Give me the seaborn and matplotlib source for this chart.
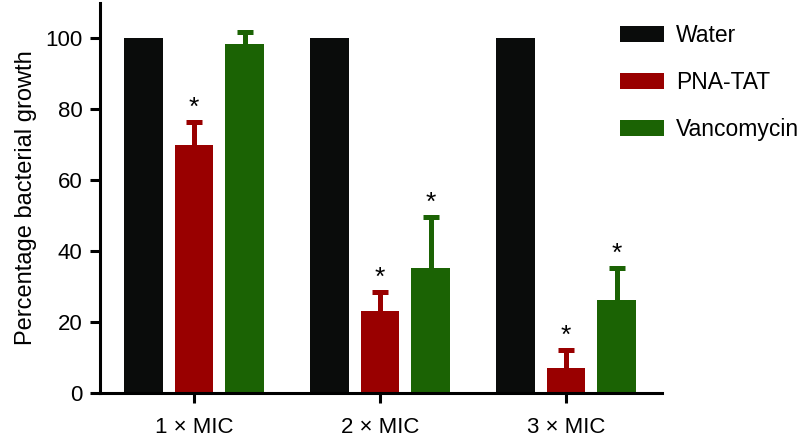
import matplotlib
matplotlib.use("Agg")
import matplotlib.pyplot as plt
import seaborn as sns
import pandas as pd
import numpy as np

groups = ["1 \u00d7 MIC", "2 \u00d7 MIC", "3 \u00d7 MIC"]
treatments = ["Water", "PNA-TAT", "Vancomycin"]
water = [100, 100, 100]
pna_tat = [70, 23, 7]
vancomycin = [98.5, 35.3, 26.1]
water_err = [0, 0, 0]
pna_tat_err = [6.5, 5.4, 5.0]
vancomycin_err = [3.2, 14.3, 9.2]
starred = {"PNA-TAT": [True, True, True], "Vancomycin": [False, True, True]}

colors = ["#0a0c0b", "#990000", "#1b6304"]

sns.set_style("ticks")
plt.rcParams["font.family"] = ["Liberation Sans", "DejaVu Sans"]
plt.rcParams.update({"text.color": "black", "axes.labelcolor": "black",
                     "xtick.color": "black", "ytick.color": "black",
                     "axes.edgecolor": "black"})

df = pd.DataFrame({
    "group": groups * 3,
    "treatment": [t for t in treatments for _ in groups],
    "value": water + pna_tat + vancomycin,
    "err": water_err + pna_tat_err + vancomycin_err,
})

fig = plt.figure(figsize=(8.08, 4.44), dpi=100)
ax = fig.add_axes([100 / 808, 51 / 444, 562 / 808, 390 / 444])

sns.barplot(data=df, x="group", y="value", hue="treatment", order=groups,
            hue_order=treatments, palette=colors, width=0.815, gap=0.237,
            errorbar=None, saturation=1, linewidth=0, ax=ax)

# upper error bars and stars
for cont, name, col in zip(ax.containers, treatments, colors):
    sub = df[df.treatment == name].set_index("group").loc[groups]
    xs = [p.get_x() + p.get_width() / 2 for p in cont.patches]
    ys = sub["value"].to_numpy()
    es = sub["err"].to_numpy()
    if es.sum() > 0:
        eb = ax.errorbar(xs, ys, yerr=[np.zeros_like(es), es], fmt="none",
                         ecolor=col, elinewidth=3.6, capsize=6, capthick=3.6)
        eb[1][0].set_visible(False)  # lower cap, hidden
    for i, (x, y, e) in enumerate(zip(xs, ys, es)):
        if starred.get(name, [False] * 3)[i]:
            ax.text(x, y + e + 0.6, "*", ha="center", va="bottom",
                    fontsize=19, color="black")

ax.set_xlim(-0.505, 2.515)
ax.set_ylim(0, 110)
ax.set_yticks([0, 20, 40, 60, 80, 100])
ax.set_xlabel("")
ax.set_ylabel("Percentage bacterial growth", fontsize=17, labelpad=6)
ax.tick_params(axis="both", labelsize=16, width=2.2, length=7.5, direction="out")
ax.tick_params(axis="y", pad=5)
ax.tick_params(axis="x", pad=10)
for s in ["left", "bottom"]:
    ax.spines[s].set_linewidth(2.2)
sns.despine(ax=ax)

handles, labels = ax.get_legend_handles_labels()
ax.legend(handles, labels, loc="upper left", bbox_to_anchor=(620 / 808, 420 / 444),
          bbox_transform=fig.transFigure, frameon=False, fontsize=16.5,
          handlelength=1.9, handleheight=0.7, labelspacing=1.05,
          handletextpad=0.55, borderpad=0, borderaxespad=0)

fig.savefig("out.png", dpi=100)
